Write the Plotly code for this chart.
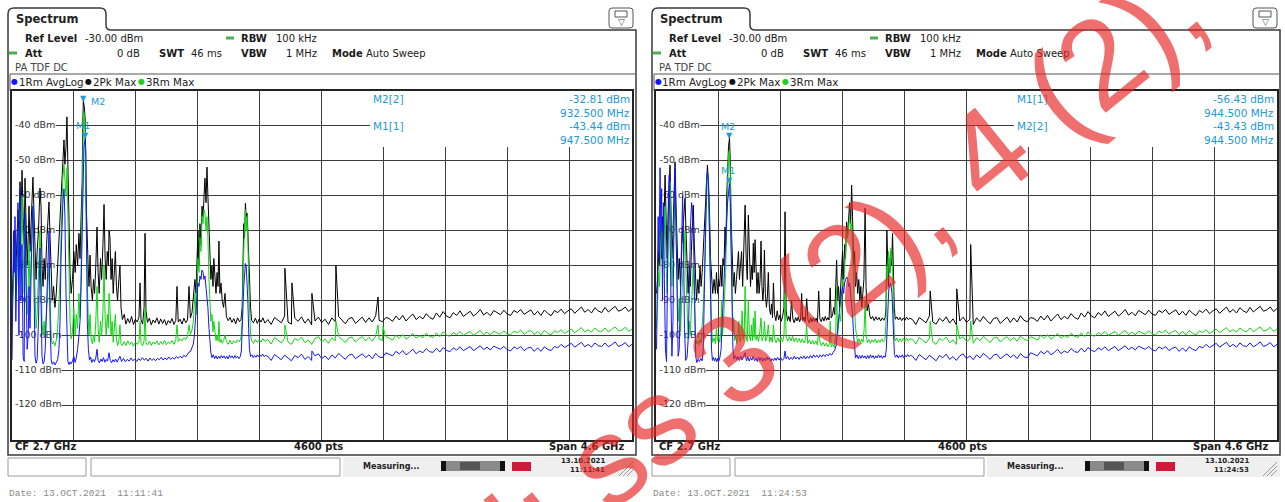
import plotly.graph_objects as go

W, H = 1285, 502

# ---------------- instrument settings ----------------
CF_MHZ = 2700.0
SPAN_MHZ = 4600.0
N_POINTS = 4600
REF_LEVEL = -30.0
BOTTOM_LEVEL = -130.0
Y_LABELS = [-40, -50, -60, -70, -80, -90, -100, -110, -120]
DATES = ["13.10.2021", "13.10.2021"]
DATE_LONG = ["13.OCT.2021", "13.OCT.2021"]
TIMES = ["11:11:41", "11:24:53"]

# ---------------- noise floor above 2.3 GHz (25 MHz steps) ----------------
FLOOR_F = list(range(2300, 5001, 25))
BLACK_FLOOR = [
    -95.5, -96.9, -94.9, -95.6, -96.4, -94.5, -96.2, -96.8, -95.1, -96.0,
    -94.7, -96.5, -95.3, -97.0, -95.9, -94.8, -96.3, -95.4, -96.9, -95.0,
    -96.1, -94.6, -95.8, -96.7, -95.2, -94.9, -96.6, -95.6, -94.8, -96.3,
    -95.0, -96.2, -94.4, -95.7, -96.1, -94.9, -95.2, -96.0, -94.5, -95.6,
    -94.3, -95.9, -94.8, -93.9, -95.5, -94.6, -95.3, -93.8, -94.9, -95.4,
    -93.6, -94.8, -93.2, -94.5, -95.0, -93.5, -94.3, -93.0, -94.6, -93.9,
    -93.1, -94.5, -93.7, -92.6, -94.2, -93.4, -94.4, -92.9, -93.6, -94.1,
    -92.8, -93.9, -94.3, -92.9, -93.5, -92.6, -94.0, -93.3, -92.7, -94.2,
    -93.1, -94.3, -92.8, -93.7, -94.4, -92.9, -93.5, -92.5, -93.8, -93.0,
    -92.4, -93.7, -92.8, -91.9, -93.4, -92.6, -93.6, -92.1, -93.0, -93.5,
    -92.0, -93.3, -92.5, -91.7, -93.1, -92.7, -91.9, -93.2, -92.3]
GREEN_FLOOR = [
    -101.2, -102.5, -100.6, -101.4, -102.2, -100.8, -101.9, -102.6, -100.9, -101.5,
    -100.5, -102.1, -101.3, -102.6, -101.0, -100.4, -101.8, -101.1, -102.3, -100.7,
    -101.6, -100.3, -101.2, -102.1, -100.8, -100.5, -101.9, -101.0, -100.4, -101.6,
    -100.6, -101.7, -100.2, -101.1, -101.5, -100.4, -100.8, -101.4, -100.0, -100.9,
    -99.8, -101.1, -100.4, -99.5, -100.8, -100.1, -100.7, -99.4, -100.3, -100.6,
    -99.3, -100.4, -99.0, -99.9, -100.3, -99.2, -99.8, -98.9, -100.0, -99.5,
    -98.9, -100.0, -99.4, -98.6, -99.8, -99.1, -99.9, -98.8, -99.3, -99.7,
    -98.7, -99.6, -99.9, -98.8, -99.3, -98.5, -99.7, -99.0, -98.6, -99.8,
    -98.9, -99.9, -98.6, -99.4, -99.9, -98.7, -99.2, -98.4, -99.5, -98.8,
    -98.2, -99.3, -98.6, -97.8, -99.0, -98.4, -99.1, -97.9, -98.7, -99.0,
    -97.9, -99.0, -98.3, -97.6, -98.8, -98.5, -97.7, -98.9, -98.2]
BLUE_FLOOR = [
    -106.0, -107.2, -105.5, -106.3, -107.0, -105.7, -106.6, -107.3, -105.8, -106.4,
    -105.4, -106.9, -106.1, -107.2, -105.9, -105.3, -106.7, -105.9, -107.0, -105.6,
    -106.5, -105.2, -106.0, -106.9, -105.7, -105.4, -106.7, -105.9, -105.3, -106.4,
    -105.6, -106.7, -105.2, -106.2, -106.4, -105.0, -105.5, -105.9, -104.6, -105.3,
    -104.4, -105.6, -104.9, -104.0, -105.3, -104.5, -105.0, -103.8, -104.7, -104.9,
    -103.7, -104.8, -103.5, -104.3, -104.7, -103.6, -104.2, -103.3, -104.4, -103.9,
    -103.2, -104.4, -103.8, -103.0, -104.1, -103.4, -104.2, -103.1, -103.6, -104.0,
    -103.2, -104.1, -104.5, -103.3, -103.9, -103.2, -104.4, -103.7, -103.4, -104.6,
    -103.6, -104.6, -103.3, -104.0, -104.4, -103.2, -103.6, -102.6, -103.5, -102.8,
    -102.3, -103.4, -102.8, -102.0, -103.3, -102.6, -103.4, -102.2, -103.0, -103.2,
    -102.2, -103.3, -102.7, -101.9, -103.2, -102.8, -102.1, -103.3, -102.6]

# ---------------- left screen (11:11:41): (MHz, dBm) ----------------
L_BLACK = [(404,-90),(412,-84),(420,-78),(426,-70),(432,-82),(440,-75),(448,-64),(456,-72),(463,-56),(470,-68),(478,-52.7),(486,-66),(494,-74),(500,-55),(508,-70),(516,-80),(524,-72),(530,-63),(537,-76),(545,-66),(552,-58),(559,-54.7),(566,-64),(574,-78),(582,-84),(590,-76),(600,-70),(611,-57.8),(619,-63),(626,-80),(634,-86),(642,-78),(650,-84),(660,-74),(670,-66),(678,-61.8),(686,-72),(694,-84),(702,-90),(712,-86),(722,-92),(732,-88),(742,-80),(752,-74),(760,-68),(767,-60),(774,-54),(781,-50),(789,-44),(796,-51),(804,-46),(811,-37.4),(818,-55),(826,-70),(834,-82),(842,-88),(852,-84),(862,-76),(872,-82),(880,-74),(890,-80),(900,-70.8),(908,-78),(916,-66),(924,-56),(928,-40),(932.5,-32.8),(940,-34.5),(946,-38),(952,-60),(960,-72),(968,-80),(975,-86),(982,-77),(990,-86),(1000,-90),(1008,-84),(1016,-88),(1025,-80),(1034,-69),(1042,-82),(1050,-88),(1060,-78),(1068,-84),(1078,-74),(1086,-62.5),(1094,-78),(1102,-84),(1110,-76),(1118,-80),(1123,-70),(1130,-72),(1138,-84),(1146,-78),(1154,-88),(1162,-82),(1170,-76),(1178,-86),(1186,-90),(1196,-84),(1204,-80),(1212,-92),(1222,-95.5),(1236,-94),(1248,-96.8),(1262,-95.2),(1276,-96.5),(1290,-94.6),(1304,-96.9),(1318,-95.4),(1332,-96.2),(1345,-94.8),(1353,-85),(1360,-95.5),(1372,-96.8),(1383,-92),(1390,-70.8),(1397,-93),(1408,-96.3),(1422,-95.1),(1436,-97.0),(1450,-95.6),(1464,-96.4),(1478,-95.0),(1492,-96.8),(1506,-95.3),(1520,-96.6),(1534,-95.5),(1548,-97.1),(1562,-95.8),(1576,-96.5),(1590,-95.2),(1604,-96.9),(1618,-95.7),(1627,-86),(1636,-96.2),(1650,-95.4),(1664,-96.8),(1678,-95.1),(1692,-96.4),(1705,-95.6),(1716,-86),(1726,-95.0),(1738,-93.5),(1748,-90),(1760,-84),(1768,-88),(1775,-78),(1782,-70),(1790,-80),(1797,-68),(1805,-74),(1812,-63),(1820,-66),(1827,-58),(1834,-55),(1842,-62),(1849,-51.8),(1856,-60),(1864,-70),(1871,-75),(1878,-84),(1886,-80),(1894,-86),(1900,-78),(1908,-84),(1916,-88),(1924,-82),(1931,-86),(1938,-73),(1945,-88),(1953,-85),(1962,-90),(1972,-92),(1983,-88),(1993,-94.6),(2006,-95.8),(2020,-94.9),(2034,-96.3),(2048,-95.2),(2062,-96.7),(2076,-95.0),(2090,-96.1),(2102,-95.4),(2110,-92),(2116,-80),(2122,-68),(2128,-72),(2134,-62.2),(2140,-66),(2146,-65),(2152,-70),(2158,-78),(2165,-86),(2172,-92),(2180,-95.7),(2194,-96.4),(2208,-95.1),(2222,-96.6),(2236,-95.3),(2250,-96.2),(2264,-95.0),(2278,-96.5)]
L_BLACK_SPIKES = [(2427,-80.8),(2479,-85),(2627,-88),(2805,-80),(3117,-89)]

L_GREEN = [(404,-96),(412,-88),(420,-80),(426,-74),(432,-90),(440,-84),(448,-70),(456,-82),(463,-64),(470,-76),(478,-60),(486,-74),(494,-88),(500,-68),(508,-80),(516,-94),(524,-86),(530,-74),(537,-88),(545,-78),(552,-66),(559,-63),(566,-76),(574,-92),(582,-98),(590,-94),(600,-84),(611,-70),(619,-78),(626,-96),(634,-100),(642,-96),(650,-100.5),(660,-92),(670,-84),(678,-80),(686,-90),(694,-100),(702,-102.5),(712,-101.8),(722,-103),(732,-101.5),(742,-98),(752,-92),(760,-84),(767,-72),(774,-62),(781,-55),(789,-51),(796,-56),(804,-60),(811,-52),(818,-68),(826,-84),(834,-96),(842,-101),(852,-99),(862,-92),(872,-100),(880,-94),(890,-98),(900,-88),(908,-95),(916,-82),(924,-66),(930,-44),(934,-36),(940,-37),(946,-42),(952,-66),(960,-82),(968,-94),(975,-100),(982,-94),(990,-101),(1000,-102.5),(1008,-100),(1016,-102),(1025,-96),(1034,-86),(1042,-98),(1050,-102),(1060,-96),(1068,-100),(1078,-93),(1086,-80),(1094,-95),(1102,-100),(1110,-94),(1118,-98),(1123,-88),(1130,-92),(1138,-100),(1146,-96),(1154,-102),(1162,-98),(1170,-94),(1178,-101),(1186,-103),(1196,-101.5),(1204,-97),(1212,-102.4),(1222,-103.0),(1236,-101.8),(1248,-102.9),(1262,-101.6),(1276,-102.7),(1290,-101.9),(1304,-103.1),(1318,-102.0),(1332,-102.6),(1345,-101.7),(1353,-96),(1360,-102.3),(1372,-103.0),(1383,-101.5),(1390,-92),(1397,-102.1),(1408,-102.8),(1422,-101.7),(1436,-102.9),(1450,-101.9),(1464,-102.5),(1478,-101.6),(1492,-102.8),(1506,-101.8),(1520,-102.6),(1534,-101.4),(1548,-102.7),(1562,-101.9),(1576,-102.4),(1590,-101.5),(1604,-102.6),(1618,-101.2),(1627,-97),(1636,-101.8),(1650,-101.0),(1664,-101.6),(1678,-100.7),(1692,-101.2),(1705,-100.2),(1716,-97),(1726,-99.8),(1738,-98.5),(1748,-96),(1760,-88),(1768,-94),(1775,-86),(1782,-78),(1790,-82),(1797,-72),(1805,-76),(1812,-66),(1820,-68),(1827,-64),(1834,-65),(1842,-70),(1849,-66),(1856,-72),(1864,-84),(1871,-90),(1878,-96),(1886,-94),(1894,-99),(1900,-96),(1908,-100),(1916,-101.5),(1924,-100),(1931,-101.6),(1938,-96),(1945,-102),(1953,-101.2),(1962,-102.3),(1972,-101.5),(1983,-100),(1993,-101.8),(2006,-102.6),(2020,-101.4),(2034,-102.5),(2048,-101.6),(2062,-102.2),(2076,-101.3),(2090,-101.9),(2102,-100.5),(2110,-96),(2116,-84),(2122,-72),(2128,-68),(2134,-64),(2140,-70),(2146,-66),(2152,-72),(2158,-84),(2165,-94),(2172,-100),(2180,-101.6),(2194,-102.3),(2208,-101.2),(2222,-102.0),(2236,-101.3),(2250,-101.9),(2264,-101.0),(2278,-101.7)]
L_GREEN_SPIKES = [(2427,-97),(2805,-96),(3117,-97),(3154,-97.5)]

L_BLUE = [(404,-107),(410,-92),(415,-70),(420,-82),(426,-66),(432,-96),(440,-78),(448,-62),(455,-100),(463,-58),(470,-90),(478,-74),(486,-106),(494,-107.5),(500,-65),(508,-88),(516,-104),(524,-100),(530,-86),(537,-98),(545,-80),(552,-70),(559,-63),(566,-84),(574,-106),(582,-108),(590,-107),(600,-96),(611,-75),(619,-90),(626,-106),(634,-108.2),(642,-107.5),(650,-104),(660,-92),(670,-80),(678,-70),(686,-96),(694,-107),(702,-108.3),(712,-107.6),(722,-108.5),(732,-107.8),(742,-107),(752,-104),(760,-96),(767,-78),(774,-68),(781,-62),(789,-58),(796,-66),(804,-88),(811,-104),(818,-107.5),(826,-108.4),(834,-107.6),(842,-108.2),(852,-107.4),(862,-106),(872,-107.8),(880,-106.5),(890,-104),(900,-100),(908,-96),(916,-86),(924,-70),(930,-52),(937,-46),(947.5,-43.4),(952,-48),(956,-70),(962,-96),(970,-104),(978,-107),(986,-106.2),(995,-107.8),(1005,-106.9),(1015,-107.6),(1025,-106.5),(1034,-104),(1042,-107.2),(1052,-107.9),(1062,-106.8),(1072,-107.5),(1082,-106.4),(1092,-107.7),(1102,-106.9),(1112,-107.4),(1123,-105),(1132,-107.2),(1142,-107.9),(1152,-107.0),(1162,-107.6),(1172,-106.8),(1182,-107.7),(1192,-107.1),(1204,-106),(1216,-107.5),(1230,-106.6),(1244,-107.6),(1258,-106.9),(1272,-107.4),(1286,-106.5),(1300,-107.3),(1314,-106.8),(1328,-107.5),(1342,-106.7),(1356,-107.2),(1370,-106.4),(1384,-107.1),(1398,-106.6),(1412,-107.4),(1426,-106.5),(1440,-107.2),(1454,-106.7),(1468,-107.3),(1482,-106.6),(1496,-107.0),(1510,-106.3),(1524,-107.1),(1538,-106.5),(1552,-107.0),(1566,-106.2),(1580,-106.9),(1594,-106.4),(1608,-106.8),(1622,-106.1),(1636,-106.6),(1650,-106.0),(1664,-106.5),(1678,-105.7),(1692,-106.2),(1705,-105.4),(1716,-104.8),(1728,-104.6),(1738,-103.8),(1748,-102.5),(1756,-100),(1762,-96),(1768,-92),(1775,-88),(1782,-85),(1790,-86),(1797,-83),(1805,-84),(1812,-81.3),(1820,-82),(1827,-84),(1834,-83),(1842,-86),(1849,-88),(1856,-92),(1864,-98),(1871,-102),(1878,-105),(1886,-106.4),(1896,-105.6),(1906,-106.7),(1916,-105.9),(1926,-106.8),(1936,-106.0),(1946,-106.6),(1956,-105.8),(1966,-106.5),(1976,-105.9),(1986,-106.7),(1996,-106.0),(2006,-106.8),(2016,-105.7),(2026,-106.4),(2036,-105.9),(2046,-106.6),(2056,-105.8),(2066,-106.5),(2076,-106.0),(2086,-106.7),(2096,-106.1),(2104,-104.5),(2110,-100),(2116,-92),(2122,-86),(2128,-82),(2134,-79.4),(2140,-80),(2146,-84),(2152,-90),(2158,-98),(2164,-104),(2172,-106.1),(2182,-105.6),(2192,-106.4),(2202,-105.8),(2212,-106.3),(2222,-105.6),(2232,-106.2),(2242,-105.7),(2252,-106.0),(2262,-105.4),(2272,-106.1),(2282,-105.8)]
L_BLUE_SPIKES = [(2627,-104.5)]

# markers in display order: (name, trace, MHz, dBm)
L_MARKERS = [("M2", 2, 932.5, -32.81), ("M1", 1, 947.5, -43.44)]

# ---------------- right screen (11:24:53): (MHz, dBm) ----------------
R_BLACK = [(404,-88),(412,-84),(420,-76),(426,-80),(432,-70),(440,-78),(448,-66),(456,-74),(467,-54.1),(474,-70),(482,-78),(490,-66),(497,-58),(504,-51.2),(511,-64),(518,-78),(526,-70),(534,-60),(541,-50.3),(548,-62),(556,-74),(564,-84),(572,-78),(582,-86),(592,-74),(600,-68),(608,-64),(615,-60.7),(622,-70),(630,-82),(638,-88),(646,-80),(654,-86),(662,-76),(670,-68),(676,-62.7),(684,-74),(692,-86),(700,-90),(710,-84),(718,-88),(726,-80),(734,-86),(742,-82),(750,-76),(758,-70),(766,-60),(774,-54),(781,-51.2),(788,-56),(796,-64),(804,-78),(812,-84),(820,-88),(830,-84),(840,-88),(848,-82),(856,-88),(864,-84),(872,-86),(880,-80),(888,-86),(896,-78),(904,-80),(911,-69),(918,-74),(924,-60),(930,-52),(937,-46),(944.5,-43.4),(950,-50),(956,-66),(964,-80),(972,-86),(980,-82),(988,-88),(996,-84),(1004,-80),(1011,-76),(1018,-84),(1026,-80),(1034,-76),(1042,-86),(1050,-78),(1060,-62.7),(1068,-78),(1076,-84),(1084,-65.6),(1092,-80),(1100,-86),(1108,-80),(1114,-84),(1121,-73.6),(1127,-82),(1134,-72.6),(1141,-84),(1148,-88),(1156,-82),(1164,-88),(1171,-84),(1178,-73),(1185,-86),(1192,-90),(1198,-86),(1203,-75.6),(1210,-88),(1218,-92),(1225,-89),(1232,-82),(1240,-92),(1248,-94),(1256,-91),(1263,-95),(1270,-85),(1278,-94),(1288,-95.8),(1298,-93),(1308,-95.6),(1318,-94.2),(1328,-96.0),(1338,-94.5),(1348,-92),(1356,-64.6),(1364,-93),(1374,-95.8),(1384,-94.6),(1394,-96.1),(1404,-90),(1414,-95.3),(1424,-96.4),(1434,-94.9),(1444,-95.9),(1454,-94.7),(1464,-96.2),(1472,-95.0),(1479,-88),(1486,-95.8),(1496,-94.8),(1506,-96.1),(1516,-89.5),(1526,-95.6),(1536,-96.5),(1546,-95.0),(1556,-96.2),(1566,-94.9),(1576,-96.0),(1586,-95.1),(1596,-96.3),(1605,-87.3),(1614,-95.2),(1624,-96.1),(1634,-94.8),(1644,-95.9),(1654,-94.6),(1664,-95.7),(1674,-94.9),(1682,-95.6),(1690,-86.4),(1698,-95.0),(1708,-94.2),(1716,-92),(1724,-94),(1731,-88),(1738,-78.5),(1745,-90),(1752,-86),(1760,-92),(1768,-86),(1775,-80),(1782,-76),(1790,-84),(1797,-74),(1804,-78),(1812,-67.5),(1819,-72),(1827,-66),(1834,-62),(1842,-68),(1849,-57),(1856,-66),(1864,-80),(1871,-76),(1878,-86),(1886,-82),(1894,-88),(1902,-84),(1910,-90),(1917,-86),(1924,-92),(1932,-88),(1940,-84),(1949,-63.6),(1956,-86),(1964,-93),(1974,-91),(1984,-94.5),(1994,-95.3),(2004,-94.6),(2016,-95.8),(2028,-94.7),(2040,-95.6),(2052,-94.9),(2064,-95.9),(2076,-95.0),(2088,-95.7),(2098,-94.8),(2104,-92),(2110,-69.9),(2116,-80),(2122,-86),(2128,-78),(2134,-82),(2140,-76),(2146,-80),(2152,-70.8),(2158,-84),(2165,-92),(2172,-95.4),(2184,-94.7),(2196,-95.6),(2208,-94.9),(2220,-95.8),(2232,-95.0),(2244,-95.7),(2256,-94.8),(2268,-95.5),(2280,-95.1)]
R_BLACK_SPIKES = [(2431,-87.3),(2628,-86.7),(2731,-74)]

R_GREEN = [(404,-98),(412,-90),(420,-82),(426,-86),(432,-76),(441,-66),(448,-80),(456,-72),(467,-63),(474,-78),(482,-88),(490,-74),(497,-64),(504,-56),(511,-70),(518,-86),(526,-78),(534,-66),(541,-58),(548,-70),(556,-84),(564,-96),(572,-90),(582,-99),(592,-88),(600,-80),(608,-76),(615,-70),(622,-82),(630,-96),(638,-101),(646,-96),(654,-100),(662,-92),(670,-86),(676,-80),(684,-90),(692,-100),(700,-102.5),(710,-101.6),(718,-102.8),(726,-101.0),(734,-102.2),(742,-98),(750,-92),(758,-84),(766,-70),(774,-60),(781,-53),(788,-58),(796,-70),(804,-88),(812,-98),(820,-102),(830,-100.8),(840,-102.4),(848,-98),(856,-101.5),(864,-100.2),(872,-102.0),(880,-99),(886,-90),(892,-100),(900,-96),(908,-90),(916,-82),(924,-68),(930,-56),(937,-48),(944,-47),(950,-54),(956,-72),(964,-90),(970,-99),(975,-95),(982,-101.5),(990,-100.2),(998,-102.3),(1006,-100.5),(1014,-96),(1022,-101.8),(1030,-100.4),(1038,-93),(1046,-101.2),(1054,-99),(1060,-86),(1068,-100.5),(1076,-101.8),(1084,-90),(1092,-100.2),(1100,-101.6),(1108,-97),(1115,-101.5),(1121,-95),(1128,-100.7),(1134,-93),(1141,-101.4),(1150,-100.0),(1158,-101.8),(1166,-100.4),(1178,-95),(1186,-101.6),(1196,-100.3),(1203,-96),(1212,-101.7),(1222,-100.6),(1232,-97),(1242,-101.9),(1252,-100.5),(1262,-102.0),(1270,-97),(1278,-100.8),(1290,-102.1),(1302,-100.7),(1314,-101.9),(1326,-100.6),(1338,-101.8),(1348,-100.0),(1356,-88),(1364,-100.5),(1376,-101.7),(1388,-100.4),(1400,-101.6),(1412,-100.3),(1424,-101.9),(1436,-100.8),(1448,-102.0),(1460,-100.9),(1472,-102.1),(1484,-101.0),(1496,-102.2),(1508,-101.2),(1516,-97),(1524,-102.3),(1536,-101.3),(1548,-102.5),(1560,-101.4),(1572,-102.6),(1584,-101.6),(1596,-102.8),(1605,-98),(1614,-101.9),(1626,-103.0),(1638,-102.0),(1650,-103.1),(1662,-102.2),(1674,-103.3),(1686,-102.4),(1690,-96),(1698,-103.4),(1710,-102.6),(1722,-103.5),(1731,-100),(1738,-86),(1745,-100),(1752,-97),(1760,-94),(1768,-96),(1775,-88),(1782,-84),(1790,-86),(1797,-80),(1804,-78),(1812,-70),(1819,-72),(1827,-68),(1834,-66),(1842,-70),(1849,-68),(1856,-76),(1864,-88),(1871,-92),(1878,-98),(1886,-100),(1894,-102),(1904,-101.0),(1914,-102.2),(1924,-101.1),(1934,-102.0),(1942,-98),(1949,-90),(1956,-100),(1966,-102.1),(1976,-101.2),(1988,-102.3),(2000,-101.3),(2012,-102.0),(2024,-101.1),(2036,-102.2),(2048,-101.3),(2060,-102.0),(2072,-101.0),(2084,-101.9),(2096,-101.2),(2104,-96),(2110,-80),(2116,-84),(2122,-76),(2128,-78),(2134,-82),(2140,-75),(2146,-78),(2152,-80),(2158,-90),(2165,-100),(2172,-101.6),(2184,-100.8),(2196,-101.9),(2208,-101.0),(2220,-101.8),(2232,-100.9),(2244,-101.7),(2256,-100.8),(2268,-101.6),(2280,-101.0)]
R_GREEN_SPIKES = [(2431,-96),(2628,-97),(2731,-96)]

R_BLUE = [(404,-104),(410,-86),(416,-66),(422,-78),(430,-52),(436,-70),(442,-58),(448,-90),(455,-62),(462,-84),(470,-104),(478,-107.5),(485,-80),(492,-60),(498,-54),(504,-66),(511,-90),(518,-106),(526,-96),(534,-64),(541,-52),(548,-68),(556,-92),(564,-106),(572,-104),(580,-88),(589,-66),(597,-60),(604,-74),(611,-98),(620,-107.2),(630,-106.4),(640,-100),(648,-80),(656,-68),(664,-62),(672,-66),(678,-72),(686,-92),(694,-106),(702,-107.8),(712,-106.9),(722,-107.5),(732,-106.6),(742,-107.3),(750,-104),(758,-88),(766,-66),(774,-56),(781,-53),(789,-56),(796,-70),(804,-92),(811,-104),(818,-107.2),(826,-106.3),(834,-107.4),(842,-106.5),(850,-107.6),(858,-106.6),(866,-107.3),(874,-106.2),(882,-104),(890,-96),(898,-90),(906,-84),(914,-76),(922,-68),(930,-62),(937,-58),(944.5,-56.4),(950,-62),(956,-78),(962,-96),(970,-104),(978,-106.8),(988,-105.8),(998,-107.0),(1008,-106.1),(1018,-107.2),(1028,-106.0),(1038,-107.1),(1048,-106.3),(1060,-105),(1070,-107.3),(1080,-106.2),(1090,-107.4),(1100,-106.4),(1110,-107.1),(1120,-106.0),(1130,-107.3),(1140,-106.5),(1150,-107.5),(1160,-106.3),(1170,-107.2),(1180,-106.4),(1190,-107.4),(1200,-106.6),(1210,-107.3),(1220,-106.2),(1230,-107.0),(1240,-106.4),(1250,-107.5),(1260,-106.7),(1270,-107.3),(1280,-106.5),(1290,-107.2),(1300,-106.3),(1312,-107.1),(1324,-106.4),(1336,-107.2),(1348,-106.6),(1356,-104.5),(1364,-106.8),(1376,-106.1),(1388,-107.0),(1400,-106.3),(1412,-106.9),(1424,-106.0),(1436,-106.8),(1448,-106.2),(1460,-106.9),(1472,-106.1),(1484,-106.7),(1496,-105.9),(1508,-106.8),(1520,-106.0),(1532,-106.6),(1544,-105.8),(1556,-106.5),(1568,-105.6),(1580,-106.3),(1592,-105.7),(1604,-106.4),(1616,-105.6),(1628,-106.2),(1640,-105.5),(1652,-106.1),(1664,-105.4),(1676,-105.9),(1688,-105.2),(1700,-105.7),(1712,-104.9),(1724,-104.2),(1734,-103),(1742,-100),(1750,-96),(1758,-92),(1766,-90),(1775,-88),(1782,-86),(1790,-88),(1797,-85),(1805,-84),(1812,-83.3),(1820,-84),(1827,-86),(1834,-85),(1842,-88),(1849,-90),(1856,-94),(1864,-100),(1871,-104),(1878,-106.5),(1888,-105.6),(1898,-106.7),(1908,-105.8),(1918,-106.6),(1928,-105.7),(1938,-106.5),(1948,-105.9),(1958,-106.7),(1968,-105.8),(1978,-106.6),(1988,-105.6),(1998,-106.4),(2008,-105.8),(2018,-106.7),(2028,-105.9),(2038,-106.5),(2048,-105.6),(2058,-106.4),(2068,-105.8),(2078,-106.6),(2088,-105.9),(2098,-106.3),(2106,-104),(2112,-96),(2118,-90),(2124,-87),(2130,-86),(2136,-85),(2142,-86),(2148,-88),(2154,-94),(2160,-102),(2166,-105.5),(2174,-106.3),(2184,-105.6),(2194,-106.5),(2204,-105.8),(2214,-106.3),(2224,-105.6),(2234,-106.4),(2244,-105.7),(2254,-106.2),(2264,-105.5),(2274,-106.1),(2284,-105.7)]
R_BLUE_SPIKES = []

R_MARKERS = [("M1", 1, 944.5, -56.43), ("M2", 2, 944.5, -43.43)]

WATERMARK = "and: ss 3 (2), 4 (2),"

# ---------------- styling / layout ----------------
FONT = "DejaVu Sans"
C_BLACK, C_GREEN, C_BLUE = "#000000", "#12d612", "#1414ff"
C_MARK = "#2299d6"
F0 = CF_MHZ - SPAN_MHZ / 2
F1 = CF_MHZ + SPAN_MHZ / 2
PY_TOP, PY_BOT = 91, 440
PANELS = [
    dict(ox=0, x0=11.5, x1=632, xa="x", ya="y", black=L_BLACK + L_BLACK_SPIKES,
         green=L_GREEN + L_GREEN_SPIKES, blue=L_BLUE + L_BLUE_SPIKES, markers=L_MARKERS,
         label_shift={"M2": (15, -1), "M1": (-2, 12)}),
    dict(ox=644, x0=656, x1=1277, xa="x2", ya="y2", black=R_BLACK + R_BLACK_SPIKES,
         green=R_GREEN + R_GREEN_SPIKES, blue=R_BLUE + R_BLUE_SPIKES, markers=R_MARKERS,
         label_shift={"M2": (-1.5, 11.5), "M1": (-1.5, 13)}),
]


def build(sig, floor):
    pts = sorted(list(sig) + list(zip(FLOOR_F, floor)))
    return [p[0] for p in pts], [p[1] for p in pts]


def px2f(p, px):
    return F0 + (px - p["x0"]) / (p["x1"] - p["x0"]) * SPAN_MHZ


def py2db(py):
    return REF_LEVEL - (py - PY_TOP) / (PY_BOT - PY_TOP) * (REF_LEVEL - BOTTOM_LEVEL)


def X(px):
    return px / W


def Y(py):
    return 1 - py / H


def pth(cmds):
    s = ""
    for c, co in cmds:
        s += c
        for i in range(0, len(co), 2):
            s += f" {X(co[i]):.5f},{Y(co[i + 1]):.5f}"
        s += " "
    return s


fig = go.Figure()
ann, shp = [], []


def txt(x, y, s, size=10, bold=False, color="#1a1a1a", anchor="left", family=FONT, **kw):
    ann.append(dict(x=X(x), y=Y(y), xref="paper", yref="paper",
                    text=f"<b>{s}</b>" if bold else s, showarrow=False,
                    xanchor=anchor, yanchor="middle", borderpad=0,
                    font=dict(size=size, color=color, family=family), **kw))


def rect(x0, y0, x1, y1, line="#444", width=1, fill=None, layer="above"):
    shp.append(dict(type="rect", xref="paper", yref="paper", x0=X(x0), x1=X(x1),
                    y0=Y(y1), y1=Y(y0), line=dict(color=line, width=width),
                    fillcolor=fill, layer=layer))


def seg(x0, y0, x1, y1, color="#444", width=1):
    shp.append(dict(type="line", xref="paper", yref="paper", x0=X(x0), x1=X(x1),
                    y0=Y(y0), y1=Y(y1), line=dict(color=color, width=width)))


for k, p in enumerate(PANELS):
    ox = p["ox"]
    # y labels (as text trace under the traces)
    lab = [f"{v} dBm" for v in Y_LABELS]
    fig.add_trace(go.Scatter(x=[px2f(p, p["x0"] + 3.5)] * len(Y_LABELS), y=Y_LABELS, mode="text",
                             text=lab, textposition="middle right",
                             textfont=dict(size=9.5, color="#333", family=FONT),
                             hoverinfo="skip", xaxis=p["xa"], yaxis=p["ya"], cliponaxis=False))
    for v, s in zip(Y_LABELS, lab):
        shp.append(dict(type="rect", xref=p["xa"], yref=p["ya"], x0=F0,
                        x1=px2f(p, p["x0"] + 4 + 5.75 * len(s)), y0=v - 1.2, y1=v + 1.2,
                        fillcolor="white", line=dict(width=0), layer="between"))
    # marker readout mask
    shp.append(dict(type="rect", xref=p["xa"], yref=p["ya"], x0=px2f(p, ox + 370), x1=F1,
                    y0=py2db(147), y1=REF_LEVEL, fillcolor="white", line=dict(width=0), layer="between"))
    # traces: 2 Pk Max (black), 3 Rm Max (green), 1 Rm AvgLog (blue)
    for key, col in (("black", C_BLACK), ("green", C_GREEN), ("blue", C_BLUE)):
        floor = {"black": BLACK_FLOOR, "green": GREEN_FLOOR, "blue": BLUE_FLOOR}[key]
        xs, ys = build(p[key], floor)
        fig.add_trace(go.Scatter(x=xs, y=ys, mode="lines", line=dict(color=col, width=1),
                                 hoverinfo="skip", xaxis=p["xa"], yaxis=p["ya"]))
    # markers
    for name, tr, f, lv in p["markers"]:
        ann.append(dict(x=f, y=lv, xref=p["xa"], yref=p["ya"], text="▼", showarrow=False,
                        yanchor="bottom", xanchor="center", yshift=-3, borderpad=0,
                        font=dict(size=8, color=C_MARK, family=FONT)))
        dx, dy = p["label_shift"][name]
        ann.append(dict(x=f, y=lv, xref=p["xa"], yref=p["ya"], text=name, showarrow=False,
                        xanchor="center", yanchor="middle", xshift=dx, yshift=dy, borderpad=0,
                        font=dict(size=9.5, color=C_MARK, family=FONT)))
    # marker readout
    for i, (name, tr, f, lv) in enumerate(p["markers"]):
        yy = 99 + 27 * i
        txt(ox + 372, yy, f"{name}[{tr}]", size=10.5, color=C_MARK)
        txt(ox + 631, yy, f"{lv:.2f} dBm", size=10.5, color=C_MARK, anchor="right")
        txt(ox + 631, yy + 13.5, f"{f:.3f} MHz", size=10.5, color=C_MARK, anchor="right")

    # frame with tab
    shp.append(dict(type="path", xref="paper", yref="paper", line=dict(color="#3a3a3a", width=1.5),
                    path=pth([("M", [ox + 8, 455]), ("L", [ox + 8, 14]), ("Q", [ox + 8, 8, ox + 14, 8]),
                              ("L", [ox + 100, 8]), ("Q", [ox + 106, 8, ox + 106, 14]),
                              ("L", [ox + 106, 25]), ("Q", [ox + 106, 30, ox + 111, 30]),
                              ("L", [ox + 636, 30]), ("L", [ox + 636, 455]), ("Z", [])])))
    seg(ox + 10, 74, ox + 635, 74, "#555", 1)
    seg(ox + 10, 74, ox + 10, 91, "#555", 1)
    # header
    txt(ox + 15, 19, "Spectrum", size=11.5, bold=True, color="#222")
    txt(ox + 24, 38, "Ref Level", bold=True)
    txt(ox + 84, 38, f"{REF_LEVEL:.2f} dBm")
    txt(ox + 24, 53, "Att", bold=True)
    txt(ox + 141, 53, "0 dB", anchor="right")
    txt(ox + 158, 53, "SWT", bold=True)
    txt(ox + 190, 53, "46 ms")
    txt(ox + 240, 38, "RBW", bold=True)
    txt(ox + 318, 38, "100 kHz", anchor="right")
    txt(ox + 240, 53, "VBW", bold=True)
    txt(ox + 318, 53, "1 MHz", anchor="right")
    txt(ox + 331, 53, "Mode", bold=True)
    txt(ox + 365, 53, "Auto Sweep")
    txt(ox + 14, 67, "PA TDF DC", color="#444")
    rect(ox + 226, 36.5, ox + 234, 39.5, line="#4caf50", width=0, fill="#4caf50")
    rect(ox + 9, 51.5, ox + 17, 54.5, line="#4caf50", width=0, fill="#4caf50")
    # legend row
    for cx, col, s, sx in ((14.5, C_BLUE, "1Rm AvgLog", 17.5), (88.5, "#111", "2Pk Max", 92),
                           (141, "#22cc22", "3Rm Max", 144.5)):
        txt(ox + cx, 82, "●", size=8, color=col, anchor="center")
        txt(ox + sx, 82, s, size=10.3, color="#222")
    # icon
    shp.append(dict(type="path", xref="paper", yref="paper", line=dict(color="#555", width=1),
                    path=pth([("M", [ox + 612, 8]), ("L", [ox + 630, 8]), ("Q", [ox + 633, 8, ox + 633, 11]),
                              ("L", [ox + 633, 25]), ("Q", [ox + 633, 28, ox + 630, 28]),
                              ("L", [ox + 612, 28]), ("Q", [ox + 609, 28, ox + 609, 25]),
                              ("L", [ox + 609, 11]), ("Q", [ox + 609, 8, ox + 612, 8]), ("Z", [])])))
    rect(ox + 615, 11, ox + 627, 17, line="#555", width=1)
    txt(ox + 621, 22, "▽", size=9, color="#555", anchor="center")
    # bottom row
    txt(ox + 14, 446, f"CF {CF_MHZ / 1000:g} GHz", bold=True)
    txt(ox + 318, 446, f"{N_POINTS} pts", bold=True, anchor="center")
    txt(ox + 625, 446, f"Span {SPAN_MHZ / 1000:g} GHz", bold=True, anchor="right")
    # status bar
    rect(ox + 343, 457, ox + 636, 477, line="#eeeeee", width=0, fill="#efefef", layer="below")
    shp.append(dict(type="rect", xref="paper", yref="paper", x0=X(ox + 8), x1=X(ox + 86),
                    y0=Y(476), y1=Y(458), line=dict(color="#9a9a9a", width=1)))
    shp.append(dict(type="rect", xref="paper", yref="paper", x0=X(ox + 91), x1=X(ox + 340),
                    y0=Y(476), y1=Y(458), line=dict(color="#9a9a9a", width=1)))
    txt(ox + 362, 466, "Measuring...", size=8, bold=True, color="#222")
    rect(ox + 441, 461, ox + 505, 471, line="#888", width=0, fill="#8a8a8a")
    rect(ox + 441, 461, ox + 446, 471, line="#111", width=0, fill="#111")
    rect(ox + 500, 461, ox + 505, 471, line="#111", width=0, fill="#111")
    rect(ox + 460, 462, ox + 480, 470, line="#555", width=0, fill="#555")
    rect(ox + 512, 462, ox + 531, 471, line="#c8102e", width=0, fill="#d11a3a")
    txt(ox + 606, 461, DATES[k], size=7, bold=True, color="#222", anchor="right")
    txt(ox + 606, 470, TIMES[k], size=7, bold=True, color="#222", anchor="right")
    for a in (0, 4, 8):
        seg(ox + 619 + a, 476, ox + 633, 462 + a, "#9a9a9a", 1)
    txt(ox + 8, 493, f"Date: {DATE_LONG[k]}  {TIMES[k]}", size=9.5, color="#8a8a8a",
        family="Liberation Mono")

# watermark
ann.append(dict(x=X(776), y=Y(323), xref="paper", yref="paper", text=WATERMARK, showarrow=False,
                xanchor="center", yanchor="middle", textangle=-39,
                font=dict(size=125, color="rgba(230,35,35,0.66)", family="Liberation Sans")))

axis_common = dict(showgrid=True, gridcolor="#3c3c3c", gridwidth=1, zeroline=False,
                   showticklabels=False, ticks="", showline=True, linecolor="#222",
                   linewidth=1.5, mirror=True, fixedrange=True)
ydom = [Y(PY_BOT), Y(PY_TOP)]
fig.update_layout(
    width=W, height=H, margin=dict(l=0, r=0, t=0, b=0), showlegend=False,
    paper_bgcolor="white", plot_bgcolor="white",
    xaxis=dict(domain=[X(11.5), X(632)], range=[F0, F1], tick0=F0, dtick=SPAN_MHZ / 10,
               anchor="y", **axis_common),
    yaxis=dict(domain=ydom, range=[BOTTOM_LEVEL, REF_LEVEL], tick0=BOTTOM_LEVEL, dtick=10,
               anchor="x", **axis_common),
    xaxis2=dict(domain=[X(656), X(1277)], range=[F0, F1], tick0=F0, dtick=SPAN_MHZ / 10,
                anchor="y2", **axis_common),
    yaxis2=dict(domain=ydom, range=[BOTTOM_LEVEL, REF_LEVEL], tick0=BOTTOM_LEVEL, dtick=10,
                anchor="x2", **axis_common),
    annotations=ann, shapes=shp,
)
fig.write_html("out.html", config={"displayModeBar": False},
               post_script="document.body.style.margin='0px';document.body.style.overflow='hidden';")
